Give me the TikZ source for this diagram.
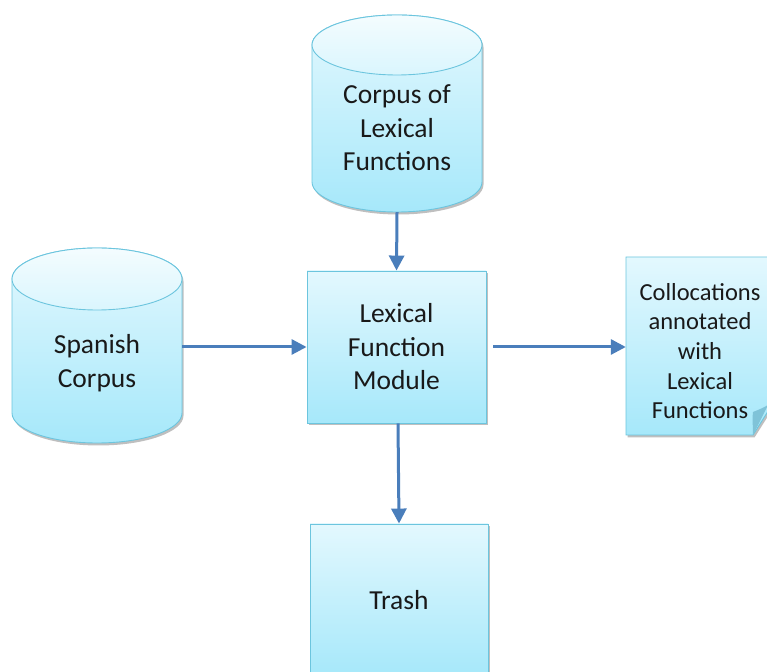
\documentclass[tikz,border=0pt]{standalone}
\usepackage{fontspec}
\setmainfont{Carlito}
\usetikzlibrary{arrows.meta,shadows}
\definecolor{fillTop}{HTML}{E3F8FE}
\definecolor{fillBot}{HTML}{A6E8FA}
\definecolor{edge}{HTML}{6CC5DE}
\definecolor{arrowc}{HTML}{4A7EBB}
\definecolor{foldc}{HTML}{7FC3D8}
\tikzset{
  shapefill/.style={top color=fillTop, bottom color=fillBot, draw=edge, line width=0.9pt,
    drop shadow={shadow xshift=1.5pt, shadow yshift=-2.5pt, opacity=0.25, fill=black}},
  lbl/.style={font=\fontsize{27.5}{33.5}\selectfont, align=center, text=black!90},
  doclbl/.style={font=\fontsize{24.5}{29.7}\selectfont, align=center, text=black!90},
  anchorbox/.style={inner sep=0pt, draw=none},
  flow/.style={draw=arrowc, line width=3pt, -{Triangle[length=15pt,width=15pt]}},
}
\begin{document}
\begin{tikzpicture}[x=1pt,y=1pt]
\useasboundingbox (0,0) rectangle (767,671);
\clip (0,0) rectangle (767,671);
% Top cylinder: Corpus of Lexical Functions
\path[shapefill] (312,626) -- (312,489) arc[start angle=180,end angle=360,x radius=85,y radius=30]
  -- (482,626) arc[start angle=0,end angle=180,x radius=85,y radius=30] -- cycle;
\draw[edge, line width=0.9pt, top color=white!60!fillTop, bottom color=fillTop!85!fillBot] (397,626) ellipse[x radius=85,y radius=30];
\node[anchorbox, minimum width=170pt, minimum height=168pt] (corpus) at (397,543) {};
\node[lbl] (corpustxt) at (397,543) {Corpus of\\Lexical\\Functions};
% Left cylinder: Spanish Corpus
\path[shapefill] (12,392) -- (12,258) arc[start angle=180,end angle=360,x radius=85,y radius=30]
  -- (182,392) arc[start angle=0,end angle=180,x radius=85,y radius=31] -- cycle;
\draw[edge, line width=0.9pt, top color=white!60!fillTop, bottom color=fillTop!85!fillBot] (97,392) ellipse[x radius=85,y radius=31];
\node[anchorbox, minimum width=170pt, minimum height=100pt] (spanish) at (97,324) {};
\node[lbl] (spanishtxt) at (97,308) {Spanish\\Corpus};
% Module
\node[shapefill, lbl, minimum width=179pt, minimum height=152pt, inner sep=0pt] (module) at (396.5,324) {Lexical\\Function\\Module};
% Trash
\node[shapefill, lbl, minimum width=178pt, minimum height=152pt, inner sep=0pt] (trash) at (399,71) {Trash};
% Document
\path[shapefill] (626,414) -- (772,414) -- (772,266) -- (753,236) -- (626,236) -- cycle;
\fill[foldc] (753,236) .. controls (753,246) and (752,253) .. (753,259) .. controls (758,261) and (763,263) .. (768,266) -- cycle;
\node[anchorbox, minimum width=140pt, minimum height=178pt] (doc) at (696,324) {};
\node[doclbl] (doctxt) at (700,320) {Collocations\\annotated\\with\\Lexical\\Functions};
% Connectors
\draw[flow] (corpus.south) -- (module.north);
\draw[flow] (spanish.east) -- (module.west);
\draw[flow, shorten <=7pt] (module.east) -- (doc.west);
\draw[flow] ([xshift=1.5pt]module.south) -- (trash.north);
\end{tikzpicture}
\end{document}
